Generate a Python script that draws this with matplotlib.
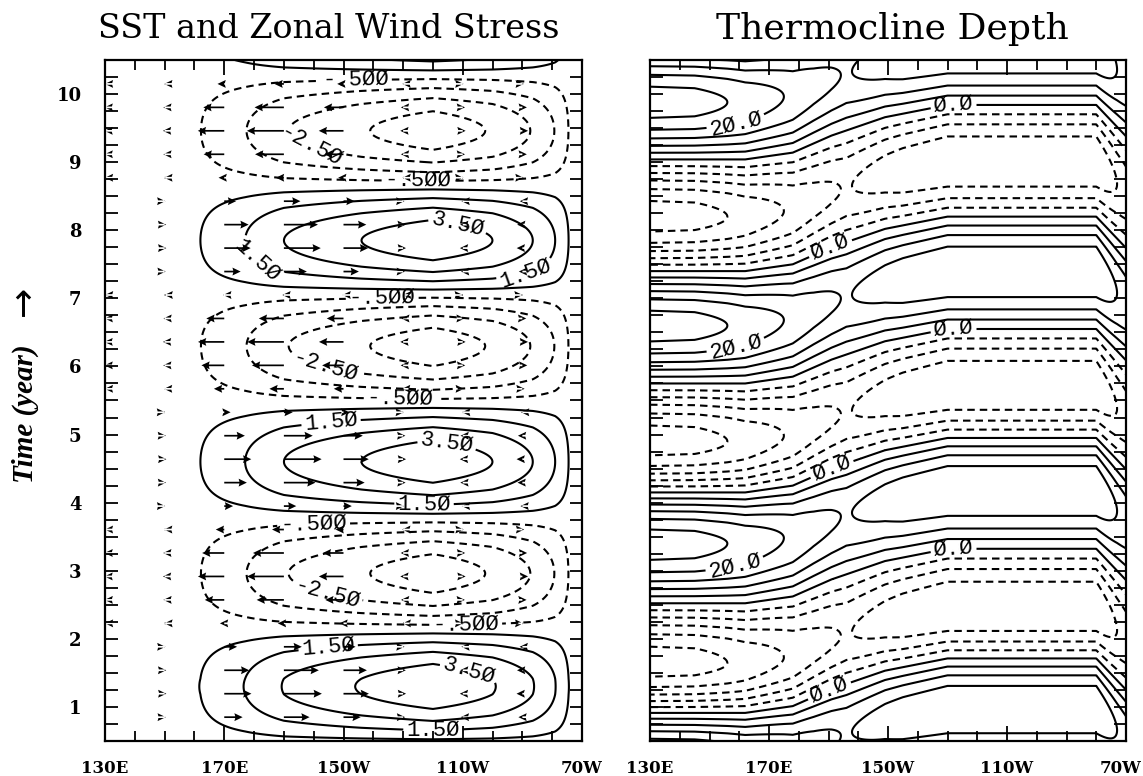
import numpy as np
import matplotlib
matplotlib.use("Agg")
import matplotlib.pyplot as plt
import matplotlib.transforms as mtransforms
from matplotlib.ticker import MultipleLocator

# ---------------------------------------------------------------- data
# SST anomaly: timing (year) and size (deg C) of alternating warm / cold extremes
sst_event_year = [-0.35, 1.30, 2.96, 4.60, 6.30, 7.85, 9.46, 11.12]
sst_event_value = [-4.1, 4.3, -4.1, 4.2, -4.1, 4.2, -4.1, 4.2]
# zonal structure of the SST anomaly along the equator (fraction of the peak)
sst_lon = [130, 150, 162, 177, 190, 216, 240, 260, 273.5, 281, 285.5, 290]
sst_shape = [0.0, 0.03, 0.119, 0.357, 0.595, 0.833, 1.0, 0.833, 0.595, 0.357, 0.119, 0.0]

# zonal wind stress at the peak of a warm event, one value per arrow column
wind_lon = [130, 150, 170, 190, 210, 230, 250, 270]
wind_peak = [0.02, 0.06, 0.93, 1.30, 0.87, 0.10, -0.10, -0.20]
wind_first_year = 0.85
wind_step_year = 0.3444
wind_rows = 28

# thermocline depth anomaly (m): extremes at the western boundary,
# zonal amplitude and eastward delay (year) of the signal
thermo_event_year = [-1.45, 0.18, 1.645, 3.40, 4.90, 6.60, 8.20, 9.88, 11.55]
thermo_event_sign = [-1, 1, -1, 1, -1, 1, -1, 1, -1]
thermo_lon = [130, 145, 156, 175, 185, 196, 205, 215, 230, 280, 287, 290]
thermo_amp = [27.5, 27.0, 25.0, 20.0, 17.0, 14.6, 16.5, 18.5, 19.7, 19.7, 15.0, 13.5]
thermo_lag_lon = [130, 162, 178, 191, 209, 230, 280, 290]
thermo_lag = [0.0, 0.0, 0.1, 0.35, 0.62, 0.8, 0.8, 0.34]

sst_levels = [-3.5, -2.5, -1.5, -0.5, 0.5, 1.5, 2.5, 3.5]
sst_label_levels = [-2.5, -0.5, 1.5, 3.5]
thermo_levels = list(range(-25, 26, 5))
thermo_label_levels = [0, 20]

lon_ticks = [130, 170, 210, 250, 290]
lon_labels = ["130E", "170E", "150W", "110W", "70W"]
year_ticks = list(range(1, 11))

# ------------------------------------------------------------ helpers
def cosine_path(t, times, values):
    """Smooth half-cosine transition between successive extremes."""
    times = np.asarray(times, float)
    values = np.asarray(values, float)
    i = np.clip(np.searchsorted(times, t) - 1, 0, len(times) - 2)
    s = np.clip((t - times[i]) / (times[i + 1] - times[i]), 0.0, 1.0)
    w = 0.5 * (1.0 - np.cos(np.pi * s))
    return values[i] + (values[i + 1] - values[i]) * w


def fmt_sst(v):
    s = f"{v:.3f}".replace("0.", ".", 1) if abs(v) < 1 else f"{v:.2f}"
    return s.replace("0", "\u00d8")


def fmt_thermo(v):
    return f"{v:.1f}".replace("0", "\u00d8")


def labelled_contours(ax, x, y, z, levels, label_levels, label_at, fmt):
    plain = [lv for lv in levels if lv not in label_levels]
    ax.contour(x, y, z, levels=plain, colors="k", linewidths=1.5)
    cs = ax.contour(x, y, z, levels=label_levels, colors="k", linewidths=1.5)
    ax.clabel(cs, manual=label_at, fmt=fmt, fontsize=16, inline=True,
              inline_spacing=3)


# --------------------------------------------------------------- grids
lon = np.linspace(130, 290, 321)
yr = np.linspace(0.3, 10.7, 1041)
LON, YR = np.meshgrid(lon, yr)

sst = np.interp(LON, sst_lon, sst_shape) * cosine_path(YR, sst_event_year, sst_event_value)

lag = np.interp(LON, thermo_lag_lon, thermo_lag)
amp = np.interp(LON, thermo_lon, thermo_amp)
depth = amp * cosine_path(YR - lag, thermo_event_year, thermo_event_sign)

peak = max(abs(v) for v in sst_event_value)
wy = wind_first_year + wind_step_year * np.arange(wind_rows)
WX, WY = np.meshgrid(np.asarray(wind_lon, float), wy)
WU = np.asarray(wind_peak)[None, :] * cosine_path(WY, sst_event_year, sst_event_value) / peak
WV = np.zeros_like(WU)

# -------------------------------------------------------------- figure
plt.rcParams["lines.dashed_pattern"] = [3.6, 2.4]
plt.rcParams["font.family"] = ["Liberation Mono", "DejaVu Sans"]

fig = plt.figure(figsize=(11.43, 7.76), dpi=100)
ax1 = fig.add_axes([105 / 1143, 35 / 776, 477 / 1143, 681 / 776])
ax2 = fig.add_axes([650 / 1143, 35 / 776, 476 / 1143, 681 / 776])

tick_font = dict(family="DejaVu Serif", weight="bold", size=12)

for ax in (ax1, ax2):
    ax.set_xlim(130, 290)
    ax.set_ylim(0.5, 10.5)
    ax.set_xticks(lon_ticks)
    ax.set_xticklabels(lon_labels, fontdict=tick_font)
    ax.xaxis.set_minor_locator(MultipleLocator(10))
    ax.set_yticks(year_ticks)
    ax.yaxis.set_minor_locator(MultipleLocator(0.25))
    ax.tick_params(which="both", direction="in", top=True, right=True,
                   width=1.3, color="k")
    ax.tick_params(axis="x", which="major", length=11, pad=14)
    ax.tick_params(axis="x", which="minor", length=7.5)
    ax.tick_params(axis="y", which="both", length=9, pad=17)
    for sp in ax.spines.values():
        sp.set_linewidth(1.6)

ax1.set_yticklabels([str(v) for v in year_ticks],
                    fontdict=dict(tick_font, size=13))
ax2.set_yticklabels([])

# keep the last longitude label of the right panel inside the canvas
last = ax2.get_xticklabels()[-1]
last.set_transform(last.get_transform() +
                   mtransforms.ScaledTranslation(-5 / 100, 0, fig.dpi_scale_trans))

# left: SST contours with wind stress arrows
sst_label_at = [(214, 10.19), (200, 9.36), (235, 8.71), (248, 8.03), (270, 7.59),
                (182, 7.61), (223, 6.95), (204, 6.05), (229, 5.48), (206, 5.09),
                (244, 4.73), (237, 3.95), (200, 3.65), (205, 2.78), (251, 2.19),
                (205, 1.80), (252, 1.51), (240, 0.68)]
labelled_contours(ax1, LON, YR, sst, sst_levels, sst_label_levels,
                  sst_label_at, fmt_sst)
ax1.quiver(WX, WY, WU, WV, angles="xy", scale_units="x", scale=0.1, pivot="tail",
           width=0.0036, headwidth=4.6, headlength=4.8, headaxislength=4.3,
           minshaft=0, minlength=0, color="k", zorder=3)

# right: thermocline depth
thermo_label_at = [(159, 9.54), (232, 9.8), (191, 7.7), (159, 6.26), (232, 6.53),
                   (191, 4.51), (159, 2.97), (232, 3.34), (191, 1.17)]
labelled_contours(ax2, LON, YR, depth, thermo_levels, thermo_label_levels,
                  thermo_label_at, fmt_thermo)

fig.text(329 / 1143, 1 - 29 / 776, "SST and Zonal Wind Stress", ha="center",
         va="center", family="DejaVu Serif", size=24)
fig.text(892 / 1143, 1 - 29 / 776, "Thermocline Depth", ha="center",
         va="center", family="DejaVu Serif", size=26)

fig.text(25 / 1143, 1 - 414 / 776, "Time (year)", rotation=90, ha="center",
         va="center", family="Liberation Serif", weight="bold", style="italic",
         size=21)
fig.text(24 / 1143, 1 - 301 / 776, "\u2192", rotation=90, ha="center",
         va="center", family="DejaVu Sans", size=26)

fig.savefig("out.png", dpi=100)
